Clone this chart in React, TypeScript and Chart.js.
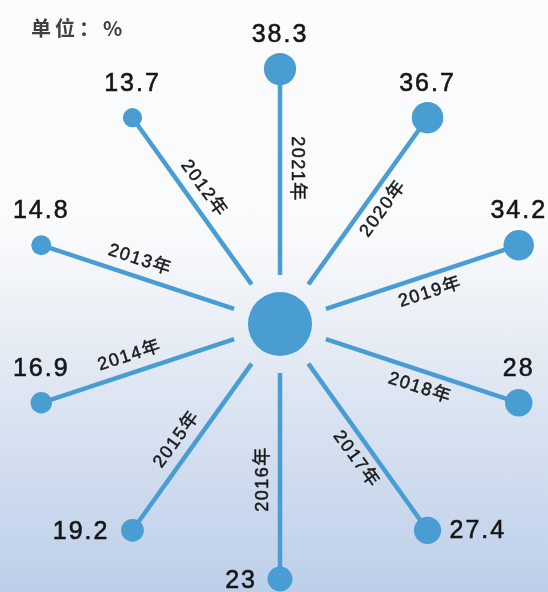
import React, { useEffect, useRef } from "react";
import { Chart, registerables } from "chart.js";

Chart.register(...registerables);

const years = ["2012年", "2013年", "2014年", "2015年", "2016年", "2017年", "2018年", "2019年", "2020年", "2021年"];
const values = [13.7, 14.8, 16.9, 19.2, 23, 27.4, 28, 34.2, 36.7, 38.3];
const unitLabel = "单位：%";

const W = 548;
const H = 592;
const CX = 280;
const CY = 324;
const R_OUT = 255;
const R_IN = 49;
const CENTER_R = 32;
const START_DEG = 126;
const STEP_DEG = 36;
const X_STRETCH = 255 / 251;
const BLUE = "#499dd3";

const angleOf = (i: number) => ((START_DEG + STEP_DEG * i) * Math.PI) / 180;
const polar = (i: number, r: number) => ({ x: r * Math.cos(angleOf(i)), y: r * Math.sin(angleOf(i)) });

const drawText = (ctx: any, txt: string, x: number, y: number, stroke: number) => {
  ctx.fillText(txt, x, y);
  if (stroke > 0) {
    ctx.lineWidth = stroke;
    ctx.strokeStyle = ctx.fillStyle;
    ctx.strokeText(txt, x, y);
  }
};

const labelPlugin = {
  id: "starLabels",
  afterDatasetsDraw(chart: any) {
    const { ctx, scales } = chart;
    const xs = scales.x;
    const ys = scales.y;
    const px = (p: { x: number; y: number }) => ({ x: xs.getPixelForValue(p.x), y: ys.getPixelForValue(p.y) });
    ctx.save();
    // title
    ctx.fillStyle = "#404040";
    ctx.font = 'bold 20px "Noto Sans CJK SC", sans-serif';
    (ctx as any).letterSpacing = "4px";
    ctx.textAlign = "left";
    ctx.textBaseline = "middle";
    ctx.fillText(unitLabel, 31, 28);

    years.forEach((yr, i) => {
      const th = angleOf(i);
      const c = Math.cos(th);
      const s = Math.sin(th);
      // year label along spoke
      const along = 155;
      const perp = 17;
      const lp = px({ x: along * c + perp * s, y: along * s - perp * c });
      let rot = Math.atan2(-s, c);
      if (c < 0.01) rot += Math.PI;
      ctx.save();
      ctx.translate(lp.x, lp.y);
      ctx.rotate(rot);
      ctx.fillStyle = "#1a1a1a";
      ctx.font = '18px "Liberation Sans", "Noto Sans CJK SC", sans-serif';
      (ctx as any).letterSpacing = "1.5px";
      ctx.textAlign = "center";
      ctx.textBaseline = "middle";
      drawText(ctx, yr, 0, 0, 0.5);
      ctx.restore();

      // value label
      const op = px(polar(i, R_OUT));
      ctx.fillStyle = "#161616";
      ctx.font = '25px "Liberation Sans", sans-serif';
      (ctx as any).letterSpacing = "2px";
      ctx.textBaseline = "middle";
      const txt = String(values[i]);
      if (s < -0.5) {
        if (c > 0.01) {
          ctx.textAlign = "left";
          drawText(ctx, txt, op.x + 22, op.y + 1, 0.6);
        } else {
          ctx.textAlign = "right";
          drawText(ctx, txt, op.x - 23, op.y + 2, 0.6);
        }
      } else {
        ctx.textAlign = "center";
        drawText(ctx, txt, op.x, op.y - 34, 0.6);
      }
    });
    ctx.restore();
  },
};

export default function App() {
  const ref = useRef<HTMLCanvasElement | null>(null);
  useEffect(() => {
    if (!ref.current) return;
    const spokeSets = years.map((yr, i) => ({
      label: yr,
      data: [polar(i, R_IN), polar(i, R_OUT)],
      showLine: true,
      borderColor: BLUE,
      borderWidth: 4.5,
      pointRadius: 0,
      borderCapStyle: "butt" as const,
    }));
    const chart = new Chart(ref.current, {
      type: "scatter",
      data: {
        datasets: [
          ...spokeSets,
          {
            label: "values",
            data: years.map((_, i) => polar(i, R_OUT)),
            pointRadius: values.map((v) => 2.6 * Math.sqrt(v)),
            pointBackgroundColor: BLUE,
            pointBorderWidth: 0,
            borderWidth: 0,
            showLine: false,
          },
          {
            label: "center",
            data: [{ x: 0, y: 0 }],
            pointRadius: CENTER_R,
            pointBackgroundColor: BLUE,
            pointBorderWidth: 0,
            borderWidth: 0,
          },
        ] as any,
      },
      options: {
        animation: false,
        responsive: false,
        events: [],
        layout: { padding: 0, autoPadding: false },
        plugins: { legend: { display: false }, tooltip: { enabled: false } },
        scales: {
          x: { type: "linear", display: false, min: -CX * X_STRETCH, max: (W - CX) * X_STRETCH },
          y: { type: "linear", display: false, min: CY - H, max: CY },
        },
      },
      plugins: [labelPlugin],
    });
    return () => chart.destroy();
  }, []);
  return (
    <div
      style={{
        position: "fixed",
        left: 0,
        top: 0,
        width: W,
        height: H,
        background: "linear-gradient(to bottom, #fcfcfd 0%, #f9fafb 40%, #e1e8f3 63%, #bccfe9 100%)",
      }}
    >
      <canvas ref={ref} width={W} height={H} style={{ display: "block" }} />
    </div>
  );
}
